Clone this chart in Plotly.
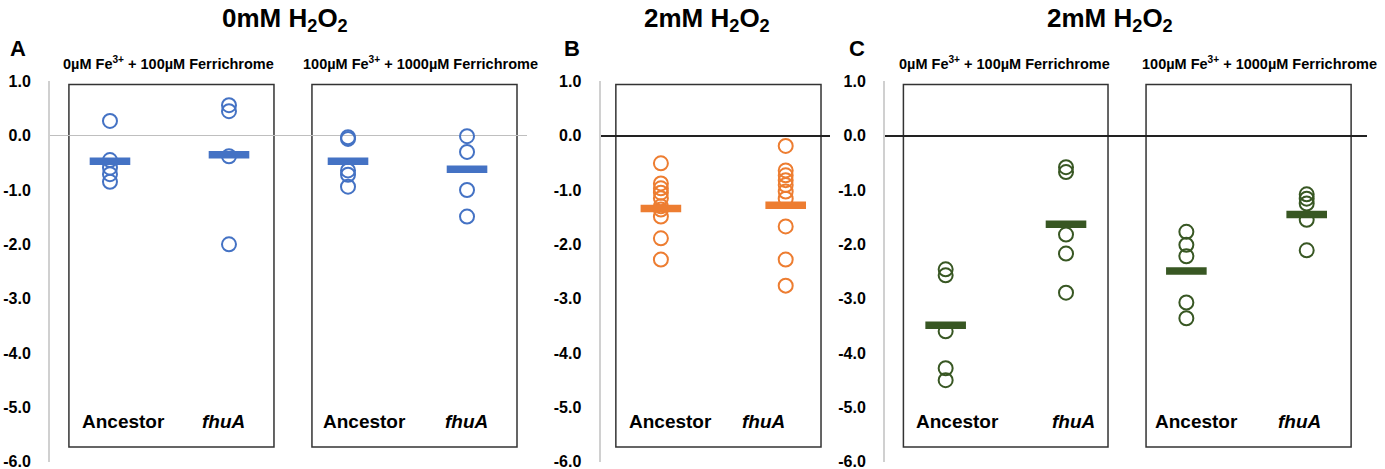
import plotly.graph_objects as go

W, H = 1385, 469

# ---------------- data ----------------
strains = ["Ancestor", "fhuA"]
y_tickvals = [1, 0, -1, -2, -3, -4, -5, -6]
y_ticktext = ["1.0", "0.0", "-1.0", "-2.0", "-3.0", "-4.0", "-5.0", "-6.0"]

# Panel A : 0mM H2O2
A_low_ancestor = [0.27, -0.45, -0.59, -0.71, -0.85]
A_low_fhuA = [0.56, 0.45, -0.38, -2.00]
A_high_ancestor = [-0.03, -0.06, -0.64, -0.72, -0.94]
A_high_fhuA = [-0.01, -0.30, -1.00, -1.49]
A_means = [-0.47, -0.35, -0.47, -0.62]

# Panel B : 2mM H2O2
B_ancestor = [-0.51, -0.88, -0.97, -1.05, -1.15, -1.30, -1.36, -1.49, -1.89, -2.28]
B_fhuA = [-0.19, -0.64, -0.73, -0.82, -0.91, -1.03, -1.16, -1.67, -2.28, -2.76]
B_means = [-1.34, -1.28]

# Panel C : 2mM H2O2
C_low_ancestor = [-2.46, -2.57, -3.60, -4.28, -4.50]
C_low_fhuA = [-0.58, -0.67, -1.82, -2.17, -2.89]
C_high_ancestor = [-1.77, -2.01, -2.22, -3.07, -3.36]
C_high_fhuA = [-1.08, -1.16, -1.25, -1.55, -2.11]
C_means = [-3.49, -1.63, -2.49, -1.45]

BLUE = "#4472C4"
ORANGE = "#ED7D31"
GREEN = "#385723"
FONT = "Liberation Sans, Arial, sans-serif"

fig = go.Figure()


def px_x(p):
    return p / W


def px_y(p):
    return 1 - p / H


def add_points(axis, groups, means, color):
    for i, vals in enumerate(groups):
        fig.add_trace(go.Scatter(
            x=[i] * len(vals), y=vals, mode="markers", xaxis="x" + axis, yaxis="y" + axis,
            marker=dict(symbol="circle-open", size=14, color=color,
                        line=dict(width=2, color=color)),
            showlegend=False, hoverinfo="skip"))
    fig.add_trace(go.Scatter(
        x=list(range(len(means))), y=means, mode="markers", xaxis="x" + axis, yaxis="y" + axis,
        marker=dict(symbol="line-ew", size=29, color=color,
                    line=dict(width=7.5, color=color)),
        showlegend=False, hoverinfo="skip"))


add_points("", [A_low_ancestor, A_low_fhuA, A_high_ancestor, A_high_fhuA], A_means, BLUE)
add_points("2", [B_ancestor, B_fhuA], B_means, ORANGE)
add_points("3", [C_low_ancestor, C_low_fhuA, C_high_ancestor, C_high_fhuA], C_means, GREEN)

ydom = [px_y(462), px_y(81)]
yax = dict(range=[-6.005, 1.005], domain=ydom, tickvals=y_tickvals,
           ticktext=["<b>" + t + "</b>" for t in y_ticktext],
           showgrid=False, showline=True, linecolor="#D0D0D0", linewidth=2,
           ticks="", ticklabelstandoff=14, automargin=False, ticklabeloverflow="allow",
           tickfont=dict(family=FONT, size=16, color="black"), zeroline=True)
xax = dict(showgrid=False, showticklabels=False, zeroline=False, showline=False, ticks="",
           automargin=False)

# panel x domains (pixels)
fig.update_layout(
    xaxis=dict(xax, domain=[px_x(50), px_x(527)], range=[-0.504, 3.504]),
    yaxis=dict(yax, anchor="x", zerolinecolor="#BFBFBF", zerolinewidth=1),
    xaxis2=dict(xax, domain=[px_x(600.5), px_x(830)], range=[-0.484, 1.355]),
    yaxis2=dict(yax, anchor="x2", zerolinecolor="#222222", zerolinewidth=1.5),
    xaxis3=dict(xax, domain=[px_x(885), px_x(1367)], range=[-0.504, 3.501]),
    yaxis3=dict(yax, anchor="x3", zerolinecolor="#222222", zerolinewidth=1.5),
)

# boxes around each group pair
box_top, box_bot = 0.94, -5.73
boxes = [("x", "y", -0.345, 1.378), ("x", "y", 1.697, 3.42),
         ("x2", "y2", -0.361, 1.283),
         ("x3", "y3", -0.351, 1.349), ("x3", "y3", 1.665, 3.369)]
for xr, yr, x0, x1 in boxes:
    fig.add_shape(type="rect", xref=xr, yref=yr, x0=x0, x1=x1, y0=box_bot, y1=box_top,
                  line=dict(color="#333333", width=1.5), fillcolor="rgba(0,0,0,0)", layer="below")

annotations = []


def txt(text, x, y, size, xanchor="center"):
    annotations.append(dict(text=text, x=px_x(x), y=px_y(y), xref="paper", yref="paper",
                            xanchor=xanchor, yanchor="middle", showarrow=False,
                            font=dict(family=FONT, size=size, color="black")))


# titles
txt("<b>0mM H<sub>2</sub>O<sub>2</sub></b>", 285, 19, 26)
txt("<b>2mM H<sub>2</sub>O<sub>2</sub></b>", 707, 19, 26)
txt("<b>2mM H<sub>2</sub>O<sub>2</sub></b>", 1110, 19, 26)
# panel letters
txt("<b>A</b>", 18, 48, 22)
txt("<b>B</b>", 572, 48, 22)
txt("<b>C</b>", 857, 48, 22)
# subtitles
sub_low = "<b>0µM Fe<sup>3+</sup> + 100µM Ferrichrome</b>"
sub_high = "<b>100µM Fe<sup>3+</sup> + 1000µM Ferrichrome</b>"
txt(sub_low, 168, 63, 14.5)
txt(sub_high, 420, 63, 14.5)
txt(sub_low, 1004, 63, 14.5)
txt(sub_high, 1259, 63, 14.5)
# strain labels
lab_anc = "<b>" + strains[0] + "</b>"
lab_fhu = "<b><i>" + strains[1] + "</i></b>"
for xa, xf in [(123, 223), (364, 466), (670, 764), (957, 1073), (1196, 1299)]:
    txt(lab_anc, xa, 421, 19)
    txt(lab_fhu, xf, 421, 19)

fig.update_layout(width=W, height=H, margin=dict(l=0, r=0, t=0, b=0),
                  plot_bgcolor="white", paper_bgcolor="white",
                  annotations=annotations, showlegend=False)

fig.write_html("out.html")
